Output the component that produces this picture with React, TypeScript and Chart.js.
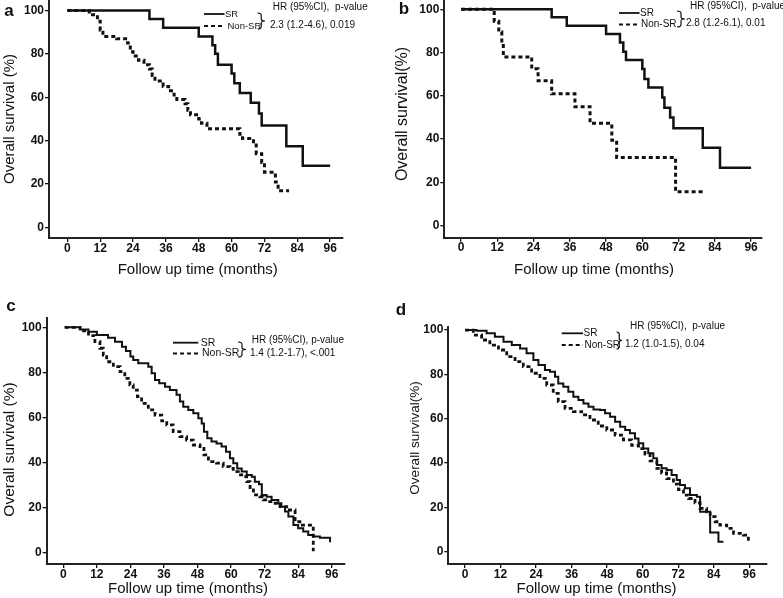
import React, { useEffect, useRef } from 'react';
import { Chart, registerables } from 'chart.js';

Chart.register(...registerables);

// ---------------- DATA ----------------
const X_TICKS = [0, 12, 24, 36, 48, 60, 72, 84, 96];
const Y_TICKS = [0, 20, 40, 60, 80, 100];
const X_TITLE = 'Follow up time (months)';
const SERIES_NAMES = ['SR', 'Non-SR'];

// Panel a
const A_SR_TIME = [0, 30, 35, 48, 53, 54, 55, 60, 61, 63, 67, 70, 71, 80, 86, 96];
const A_SR_SURV = [100, 96, 92, 88, 84, 80, 75, 71, 66.5, 62, 57.5, 52.5, 47, 37.5, 28.5, 28.5];
const A_NSR_TIME = [0, 8, 11, 12, 13, 18, 22, 23, 24, 26, 28, 30, 31, 32, 35, 37, 39, 40, 43, 44, 45, 48, 49, 51, 63, 64, 68, 69, 71, 72, 76, 77, 81];
const A_NSR_SURV = [100, 98, 95, 91, 88, 87, 85, 81, 79, 77, 75, 73, 70, 67.5, 65, 63, 61, 59, 57, 54, 52, 50, 48, 45.5, 43, 41, 38, 34, 30, 25.5, 21, 17, 17];
const A_HR = ['HR (95%CI),  p-value', '2.3 (1.2-4.6), 0.019'];

// Panel b
const B_SR_TIME = [0, 30, 35, 48, 52.6, 53.7, 54.6, 60, 60.7, 62, 66.6, 67.3, 69.2, 70.3, 80, 85.7, 96];
const B_SR_SURV = [100, 96.3, 92.4, 88.6, 84.7, 80.4, 76.6, 72.4, 67.8, 63.9, 59.2, 54.5, 50, 45, 36, 26.8, 26.8];
const B_NSR_TIME = [0, 11, 12.5, 13.5, 14, 23.4, 25.5, 30, 37.7, 42.7, 49.9, 51.5, 71, 80.2];
const B_NSR_SURV = [100, 94.5, 89.5, 84, 78, 72.5, 67, 61, 55, 47.3, 39.5, 31.5, 15.7, 15.7];
const B_HR = ['HR (95%CI),  p-value', '2.8 (1.2-6.1), 0.01'];

// Panel c
const C_SR_TIME = [0.5, 6, 9, 12, 16, 18.5, 21, 22.4, 24, 25, 26.8, 30.4, 31.6, 32.8, 34.3, 36.4, 38.1, 40.5, 41.7, 42.9, 44.7, 46.5, 48.3, 49.5, 50.3, 51.5, 53, 54.8, 56.6, 58.2, 59.6, 60.8, 62.2, 63.8, 65.6, 67.4, 68.5, 70, 71, 72.7, 74.5, 76.9, 78, 79.3, 80.5, 82.3, 84, 85.8, 87.6, 89.4, 91.8, 94, 95.4];
const C_SR_SURV = [100, 99, 98, 96.6, 95.4, 93.6, 91.4, 89.5, 87, 85.5, 84, 82.5, 79.6, 76.6, 75.1, 73.6, 72.1, 70, 67, 64.7, 63.3, 61.8, 59.6, 57.3, 53.6, 50.7, 49.2, 48.4, 47, 44.7, 41.8, 39.6, 37.3, 35.9, 34.4, 33.6, 31.4, 30.2, 25.5, 24.7, 23.3, 21.8, 20.3, 18.1, 15.9, 12.1, 10.7, 9.2, 7.7, 7, 6.5, 6.5, 4.5];
const C_NSR_TIME = [0.5, 6, 9, 11.3, 13.1, 14.3, 15.5, 17.9, 20.3, 22, 23.8, 25, 26.5, 28, 30.4, 32.8, 35.2, 37, 39.3, 41.7, 44.1, 46.5, 48.9, 50.3, 51.9, 54.8, 57.2, 59.6, 60.8, 62.6, 64.4, 65.6, 66.8, 68, 70.3, 71.5, 73.3, 75.1, 77.5, 79.9, 82.9, 84.6, 89.4];
const C_NSR_SURV = [100, 98.4, 96.3, 93.6, 90.7, 87.7, 84.7, 82.5, 80.3, 77.3, 74.4, 72.1, 69.2, 66.2, 63.3, 61, 58.4, 56.6, 53.6, 51.4, 49.9, 47.7, 46.2, 43.3, 40.3, 39.6, 38.1, 37.3, 35.9, 34.4, 33.6, 31.4, 27.7, 25.5, 24.7, 23.3, 22.5, 21.8, 20.3, 18.8, 13.6, 12.1, 0.5];
const C_HR = ['HR (95%CI), p-value', '1.4 (1.2-1.7), <.001'];

// Panel d
const D_SR_TIME = [0, 3.9, 7.3, 10.1, 13, 15.8, 18.6, 20.8, 23.1, 24.8, 27, 28.7, 30.4, 31.5, 33.2, 34.9, 36.6, 38.3, 40, 41.7, 43.4, 45.6, 47.3, 49, 50.7, 52.4, 54.1, 55.7, 57.4, 58.6, 60.2, 61.9, 63.6, 64.8, 66.4, 68.1, 69.8, 71.5, 72.6, 74.3, 76, 78.3, 79.4, 82.8, 85.6, 87.3];
const D_SR_SURV = [100, 99.7, 98.5, 97, 94.7, 93.2, 91.7, 89.5, 86.5, 84.2, 82, 81.2, 78.9, 75.9, 74.4, 72.2, 69.9, 68.4, 66.9, 65.4, 64.2, 63.9, 62.4, 60.9, 58.6, 56.4, 54.9, 53.4, 51.1, 48.9, 46.6, 44.4, 42.1, 39.1, 37.6, 36.8, 34.6, 32.3, 30.1, 28.6, 25.6, 24.8, 18, 8.7, 4.5, 4.5];
const D_NSR_TIME = [0, 2.8, 5.6, 8.4, 11.3, 14.1, 16.9, 19.7, 22.5, 25.3, 27.6, 29.8, 31.5, 33.8, 36.6, 39.4, 42.2, 45, 47.9, 50.7, 53.5, 56.3, 58.6, 60.8, 62.5, 64.8, 66.4, 68.1, 70.4, 72.1, 73.8, 75.5, 77.7, 79.4, 81.6, 82.8, 84.5, 86.1, 88.4, 90.7, 94, 95.7];
const D_NSR_SURV = [100, 97.7, 95.5, 93.2, 91, 88, 85.7, 83.5, 80.5, 78.2, 75.2, 71.4, 67.7, 64.7, 63.2, 61.7, 59.4, 56.7, 54.9, 52.6, 50.4, 48, 46.5, 44, 41, 37.6, 35.5, 33, 30.5, 28, 25.5, 24, 22, 19.5, 18, 15.8, 13.5, 12, 10.5, 8.3, 7.5, 4.5];
const D_HR = ['HR (95%CI),  p-value', '1.2 (1.0-1.5), 0.04'];

// ---------------- LAYOUT / STYLE ----------------
const INK = '#111111';
const FONT = '"Liberation Sans", Arial, Helvetica, sans-serif';

type Panel = {
  key: string;
  letter: string;
  left: number; top: number; w: number; h: number;
  cl: number; cr: number; ct: number; cb: number; // chart area, page coords
  xmin: number; xmax: number; ymin: number; ymax: number;
  srT: number[]; srS: number[]; nT: number[]; nS: number[];
  lw: number; dw: number;
  letterPos: [number, number];
  yTitle: string; yTitlePos: [number, number]; yTitleSize: number;
  xTitlePos: [number, number];
  leg: { x0: number; x1: number; y1: number; y2: number; srX: number; nX: number; bx0: number; bx1: number; by0: number; by1: number; hr1: [number, number]; hr2: [number, number]; size: number; nameSize: number };
  hr: string[];
};

const PANELS: Panel[] = [
  {
    key: 'a', letter: 'a', left: 0, top: 0, w: 391, h: 295,
    cl: 49, cr: 343, ct: 0, cb: 238,
    xmin: -6.7, xmax: 100.7, ymin: -4.8, ymax: 104.8,
    srT: A_SR_TIME, srS: A_SR_SURV, nT: A_NSR_TIME, nS: A_NSR_SURV,
    lw: 2.5, dw: 3,
    letterPos: [9, 11],
    yTitle: 'Overall survival (%)', yTitlePos: [10, 119], yTitleSize: 15,
    xTitlePos: [197.7, 270],
    leg: { x0: 204, x1: 224.5, y1: 14, y2: 26, srX: 225, nX: 227.5, bx0: 257.5, bx1: 265, by0: 13, by1: 29, hr1: [272.7, 7.5], hr2: [270, 25.5], size: 10, nameSize: 9.5 },
    hr: A_HR,
  },
  {
    key: 'b', letter: 'b', left: 391, top: 0, w: 392, h: 295,
    cl: 444.3, cr: 762, ct: 0, cb: 237.7,
    xmin: -5.53, xmax: 99.6, ymin: -5.55, ymax: 104.3,
    srT: B_SR_TIME, srS: B_SR_SURV, nT: B_NSR_TIME, nS: B_NSR_SURV,
    lw: 2.5, dw: 3,
    letterPos: [404, 9],
    yTitle: 'Overall survival(%)', yTitlePos: [403, 114], yTitleSize: 16,
    xTitlePos: [594, 270],
    leg: { x0: 619, x1: 639.5, y1: 13, y2: 24.5, srX: 640, nX: 641, bx0: 677, bx1: 685, by0: 11, by1: 27, hr1: [690, 6], hr2: [686, 23], size: 10, nameSize: 10 },
    hr: B_HR,
  },
  {
    key: 'c', letter: 'c', left: 0, top: 295, w: 391, h: 303,
    cl: 46.7, cr: 345, ct: 318.3, cb: 564,
    xmin: -5.94, xmax: 100.75, ymin: -5.2, ymax: 104,
    srT: C_SR_TIME, srS: C_SR_SURV, nT: C_NSR_TIME, nS: C_NSR_SURV,
    lw: 2, dw: 2.8,
    letterPos: [11, 306],
    yTitle: 'Overall survival (%)', yTitlePos: [10, 449.5], yTitleSize: 15.5,
    xTitlePos: [188, 589],
    leg: { x0: 173, x1: 198.3, y1: 342.7, y2: 353.5, srX: 200.7, nX: 202, bx0: 238, bx1: 246, by0: 342, by1: 357, hr1: [251.7, 340.7], hr2: [250, 353.5], size: 10, nameSize: 10.5 },
    hr: C_HR,
  },
  {
    key: 'd', letter: 'd', left: 391, top: 295, w: 392, h: 303,
    cl: 448.3, cr: 766.7, ct: 326.7, cb: 564,
    xmin: -5.64, xmax: 101.9, ymin: -5.55, ymax: 101.5,
    srT: D_SR_TIME, srS: D_SR_SURV, nT: D_NSR_TIME, nS: D_NSR_SURV,
    lw: 2, dw: 2.8,
    letterPos: [401, 310],
    yTitle: 'Overall survival(%)', yTitlePos: [415, 438], yTitleSize: 13.5,
    xTitlePos: [596.5, 589],
    leg: { x0: 561.7, x1: 583, y1: 333.3, y2: 345, srX: 583.5, nX: 584.5, bx0: 616.5, bx1: 622, by0: 332, by1: 349, hr1: [630, 326.7], hr2: [625, 344], size: 10, nameSize: 10 },
    hr: D_HR,
  },
];

function km(times: number[], surv: number[]) {
  return times.map((t, i) => ({ x: t, y: surv[i] }));
}

function makeTextPlugin(p: Panel) {
  return {
    id: 'panelText_' + p.key,
    afterDraw(chart: any) {
      const ctx: CanvasRenderingContext2D = chart.ctx;
      const ox = p.left;
      const oy = p.top;
      ctx.save();
      ctx.fillStyle = INK;
      ctx.strokeStyle = INK;
      ctx.textBaseline = 'middle';

      // panel letter
      ctx.textAlign = 'center';
      ctx.font = `bold 17px ${FONT}`;
      ctx.fillText(p.letter, p.letterPos[0] - ox, p.letterPos[1] - oy);

      // y title
      ctx.save();
      ctx.translate(p.yTitlePos[0] - ox, p.yTitlePos[1] - oy);
      ctx.rotate(-Math.PI / 2);
      ctx.font = `${p.yTitleSize}px ${FONT}`;
      ctx.fillText(p.yTitle, 0, 0);
      ctx.restore();

      // x title
      ctx.font = `15px ${FONT}`;
      ctx.fillText(X_TITLE, p.xTitlePos[0] - ox, p.xTitlePos[1] - oy);

      // legend
      const L = p.leg;
      ctx.lineWidth = 1.8;
      ctx.setLineDash([]);
      ctx.beginPath();
      ctx.moveTo(L.x0 - ox, L.y1 - oy);
      ctx.lineTo(L.x1 - ox, L.y1 - oy);
      ctx.stroke();
      ctx.setLineDash([4, 3]);
      ctx.beginPath();
      ctx.moveTo(L.x0 - ox, L.y2 - oy);
      ctx.lineTo(L.x1 - ox, L.y2 - oy);
      ctx.stroke();
      ctx.setLineDash([]);

      ctx.textAlign = 'left';
      ctx.font = `${L.nameSize}px ${FONT}`;
      ctx.fillText(SERIES_NAMES[0], L.srX - ox, L.y1 - oy);
      ctx.fillText(SERIES_NAMES[1], L.nX - ox, L.y2 - oy);

      // bracket "}"
      const bx0 = L.bx0 - ox, bx1 = L.bx1 - ox;
      const by0 = L.by0 - oy, by1 = L.by1 - oy;
      const bm = (by0 + by1) / 2;
      const xm = (bx0 + bx1) / 2;
      ctx.lineWidth = 1.2;
      ctx.beginPath();
      ctx.moveTo(bx0, by0);
      ctx.quadraticCurveTo(xm, by0, xm, by0 + 2.5);
      ctx.lineTo(xm, bm - 2);
      ctx.quadraticCurveTo(xm, bm, bx1, bm);
      ctx.quadraticCurveTo(xm, bm, xm, bm + 2);
      ctx.lineTo(xm, by1 - 2.5);
      ctx.quadraticCurveTo(xm, by1, bx0, by1);
      ctx.stroke();

      ctx.font = `${L.size}px ${FONT}`;
      ctx.fillText(p.hr[0], L.hr1[0] - ox, L.hr1[1] - oy);
      ctx.fillText(p.hr[1], L.hr2[0] - ox, L.hr2[1] - oy);
      ctx.restore();
    },
  };
}

function PanelChart({ p }: { p: Panel }) {
  const ref = useRef<HTMLCanvasElement | null>(null);
  useEffect(() => {
    if (!ref.current) return;
    const tickFont = { family: FONT, size: 12, weight: 'bold' as const };
    const chart = new Chart(ref.current, {
      type: 'line',
      data: {
        datasets: [
          {
            label: SERIES_NAMES[0],
            data: km(p.srT, p.srS),
            stepped: true,
            borderColor: INK,
            borderWidth: p.lw,
            pointRadius: 0,
            fill: false,
          },
          {
            label: SERIES_NAMES[1],
            data: km(p.nT, p.nS),
            stepped: true,
            borderColor: INK,
            borderWidth: p.dw,
            borderDash: [4, 3],
            pointRadius: 0,
            fill: false,
          },
        ],
      },
      options: {
        responsive: false,
        animation: false,
        events: [],
        layout: {
          padding: { left: 0, top: p.ct - p.top, right: p.left + p.w - p.cr, bottom: 0 },
        },
        plugins: {
          legend: { display: false },
          tooltip: { enabled: false },
          title: { display: false },
        },
        scales: {
          x: {
            type: 'linear',
            min: p.xmin,
            max: p.xmax,
            afterBuildTicks: (s: any) => {
              s.ticks = X_TICKS.map((v) => ({ value: v }));
            },
            afterFit: (s: any) => {
              s.height = p.top + p.h - p.cb;
              s.paddingLeft = 0;
              s.paddingRight = 0;
            },
            ticks: {
              font: tickFont,
              color: INK,
              padding: -1,
              autoSkip: false,
              maxRotation: 0,
              minRotation: 0,
            },
            grid: { drawOnChartArea: false, tickLength: 4, color: INK, lineWidth: 1.3 },
            border: { display: true, color: '#222', width: 2 },
          },
          y: {
            type: 'linear',
            min: p.ymin,
            max: p.ymax,
            afterBuildTicks: (s: any) => {
              s.ticks = Y_TICKS.map((v) => ({ value: v }));
            },
            afterFit: (s: any) => {
              s.width = p.cl - p.left;
              s.paddingTop = 0;
              s.paddingBottom = 0;
            },
            ticks: {
              font: tickFont,
              color: INK,
              padding: 1,
              autoSkip: false,
            },
            grid: { drawOnChartArea: false, tickLength: 4, color: INK, lineWidth: 1.3 },
            border: { display: true, color: '#222', width: 2 },
          },
        },
      },
      plugins: [makeTextPlugin(p)],
    } as any);
    return () => chart.destroy();
  }, [p]);
  return (
    <canvas
      ref={ref}
      width={p.w}
      height={p.h}
      style={{ position: 'absolute', left: p.left, top: p.top, width: p.w, height: p.h }}
    />
  );
}

export default function App() {
  return (
    <div style={{ position: 'fixed', left: 0, top: 0, width: 783, height: 598, background: '#ffffff', overflow: 'hidden' }}>
      {PANELS.map((p) => (
        <PanelChart key={p.key} p={p} />
      ))}
    </div>
  );
}
